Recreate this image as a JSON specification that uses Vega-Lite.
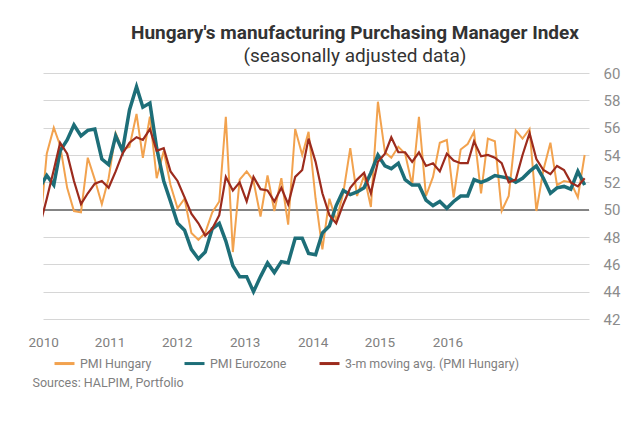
{
 "$schema": "https://vega.github.io/schema/vega-lite/v6.json",
 "width": 546, "height": 246,
 "autosize": {"type": "none"},
 "padding": {"left": 43, "top": 73, "right": 52, "bottom": 107},
 "title": {"text": "Hungary's manufacturing Purchasing Manager Index", "subtitle": "(seasonally adjusted data)", "anchor": "middle", "frame": "group", "dx": 39, "offset": 0.5, "font": "Roboto", "fontSize": 19, "fontWeight": "bold", "color": "#333333", "subtitleFont": "Roboto", "subtitleFontSize": 19, "subtitleColor": "#333333", "subtitlePadding": 4},
 "data": {"values": [
  {"month":"2009-12-01","hu":48.5,"ez":51.6,"ma":48.8},
  {"month":"2010-01-01","hu":54.1,"ez":52.5,"ma":50.8},
  {"month":"2010-02-01","hu":56.0,"ez":51.8,"ma":52.9},
  {"month":"2010-03-01","hu":54.7,"ez":54.3,"ma":54.9},
  {"month":"2010-04-01","hu":51.6,"ez":55.1,"ma":54.1},
  {"month":"2010-05-01","hu":49.9,"ez":56.2,"ma":52.1},
  {"month":"2010-06-01","hu":49.8,"ez":55.4,"ma":50.4},
  {"month":"2010-07-01","hu":53.8,"ez":55.8,"ma":51.2},
  {"month":"2010-08-01","hu":52.2,"ez":55.9,"ma":51.9},
  {"month":"2010-09-01","hu":50.4,"ez":53.7,"ma":52.1},
  {"month":"2010-10-01","hu":52.3,"ez":53.3,"ma":51.6},
  {"month":"2010-11-01","hu":55.6,"ez":55.4,"ma":52.8},
  {"month":"2010-12-01","hu":54.4,"ez":54.3,"ma":54.1},
  {"month":"2011-01-01","hu":54.6,"ez":57.3,"ma":54.9},
  {"month":"2011-02-01","hu":57.0,"ez":59.0,"ma":55.3},
  {"month":"2011-03-01","hu":53.8,"ez":57.5,"ma":55.1},
  {"month":"2011-04-01","hu":56.8,"ez":57.8,"ma":55.9},
  {"month":"2011-05-01","hu":52.3,"ez":54.5,"ma":54.3},
  {"month":"2011-06-01","hu":54.3,"ez":52.1,"ma":54.5},
  {"month":"2011-07-01","hu":51.8,"ez":50.6,"ma":52.8},
  {"month":"2011-08-01","hu":50.1,"ez":49.0,"ma":52.1},
  {"month":"2011-09-01","hu":50.8,"ez":48.5,"ma":50.9},
  {"month":"2011-10-01","hu":48.3,"ez":47.1,"ma":49.7},
  {"month":"2011-11-01","hu":47.8,"ez":46.4,"ma":49.0},
  {"month":"2011-12-01","hu":48.3,"ez":46.9,"ma":48.1},
  {"month":"2012-01-01","hu":49.8,"ez":48.6,"ma":48.6},
  {"month":"2012-02-01","hu":50.6,"ez":49.0,"ma":49.6},
  {"month":"2012-03-01","hu":56.8,"ez":47.7,"ma":52.4},
  {"month":"2012-04-01","hu":46.9,"ez":45.9,"ma":51.4},
  {"month":"2012-05-01","hu":52.2,"ez":45.1,"ma":52.0},
  {"month":"2012-06-01","hu":52.8,"ez":45.1,"ma":50.6},
  {"month":"2012-07-01","hu":52.1,"ez":44.0,"ma":52.4},
  {"month":"2012-08-01","hu":49.5,"ez":45.1,"ma":51.5},
  {"month":"2012-09-01","hu":52.5,"ez":46.1,"ma":51.4},
  {"month":"2012-10-01","hu":49.9,"ez":45.4,"ma":50.6},
  {"month":"2012-11-01","hu":52.3,"ez":46.2,"ma":51.6},
  {"month":"2012-12-01","hu":48.9,"ez":46.1,"ma":50.4},
  {"month":"2013-01-01","hu":55.9,"ez":47.9,"ma":52.4},
  {"month":"2013-02-01","hu":54.0,"ez":47.9,"ma":52.9},
  {"month":"2013-03-01","hu":55.7,"ez":46.8,"ma":55.2},
  {"month":"2013-04-01","hu":50.8,"ez":46.7,"ma":53.5},
  {"month":"2013-05-01","hu":47.1,"ez":48.3,"ma":51.2},
  {"month":"2013-06-01","hu":50.8,"ez":48.8,"ma":49.6},
  {"month":"2013-07-01","hu":49.2,"ez":50.3,"ma":49.0},
  {"month":"2013-08-01","hu":51.2,"ez":51.4,"ma":50.4},
  {"month":"2013-09-01","hu":54.5,"ez":51.1,"ma":51.6},
  {"month":"2013-10-01","hu":51.0,"ez":51.3,"ma":52.2},
  {"month":"2013-11-01","hu":52.5,"ez":51.6,"ma":52.7},
  {"month":"2013-12-01","hu":50.2,"ez":52.7,"ma":51.2},
  {"month":"2014-01-01","hu":57.9,"ez":54.0,"ma":53.5},
  {"month":"2014-02-01","hu":54.2,"ez":53.2,"ma":54.1},
  {"month":"2014-03-01","hu":53.8,"ez":53.0,"ma":55.3},
  {"month":"2014-04-01","hu":54.6,"ez":53.4,"ma":54.2},
  {"month":"2014-05-01","hu":54.1,"ez":52.2,"ma":54.2},
  {"month":"2014-06-01","hu":51.8,"ez":51.8,"ma":53.5},
  {"month":"2014-07-01","hu":56.8,"ez":51.8,"ma":54.2},
  {"month":"2014-08-01","hu":51.0,"ez":50.7,"ma":53.2},
  {"month":"2014-09-01","hu":52.4,"ez":50.3,"ma":53.4},
  {"month":"2014-10-01","hu":54.9,"ez":50.6,"ma":52.8},
  {"month":"2014-11-01","hu":55.1,"ez":50.1,"ma":54.1},
  {"month":"2014-12-01","hu":50.9,"ez":50.6,"ma":53.6},
  {"month":"2015-01-01","hu":54.4,"ez":51.0,"ma":53.4},
  {"month":"2015-02-01","hu":54.8,"ez":51.0,"ma":53.4},
  {"month":"2015-03-01","hu":55.7,"ez":52.2,"ma":55.0},
  {"month":"2015-04-01","hu":51.2,"ez":52.0,"ma":53.9},
  {"month":"2015-05-01","hu":55.2,"ez":52.2,"ma":54.0},
  {"month":"2015-06-01","hu":55.0,"ez":52.5,"ma":53.8},
  {"month":"2015-07-01","hu":49.9,"ez":52.4,"ma":53.4},
  {"month":"2015-08-01","hu":51.0,"ez":52.3,"ma":52.0},
  {"month":"2015-09-01","hu":55.8,"ez":52.0,"ma":52.2},
  {"month":"2015-10-01","hu":55.2,"ez":52.3,"ma":54.0},
  {"month":"2015-11-01","hu":55.9,"ez":52.8,"ma":55.6},
  {"month":"2015-12-01","hu":49.9,"ez":53.2,"ma":53.7},
  {"month":"2016-01-01","hu":52.9,"ez":52.3,"ma":52.9},
  {"month":"2016-02-01","hu":54.9,"ez":51.2,"ma":52.6},
  {"month":"2016-03-01","hu":51.8,"ez":51.6,"ma":53.2},
  {"month":"2016-04-01","hu":52.1,"ez":51.7,"ma":52.9},
  {"month":"2016-05-01","hu":52.0,"ez":51.5,"ma":52.0},
  {"month":"2016-06-01","hu":50.9,"ez":52.8,"ma":51.7},
  {"month":"2016-07-01","hu":54.0,"ez":51.8,"ma":52.3}
 ]},
 "layer": [
  {"mark": {"type": "rule", "color": "#858585", "strokeWidth": 1.2},
   "encoding": {"y": {"datum": 50, "type": "quantitative", "scale": {"domain": [42, 60]}, "axis": {"orient": "right", "title": null, "values": [42,44,46,48,50,52,54,56,58,60]}}}},
  {"encoding": {
    "x": {"field": "month", "type": "temporal",
     "scale": {"domain": [{"year": 2009, "month": 12, "date": 15, "hours": 10}, {"year": 2016, "month": 7, "date": 20, "hours": 5}]},
     "axis": {"title": "Sources: HALPIM, Portfolio",
      "values": [{"year": 2009, "month": 12, "date": 16}, {"year": 2010, "month": 10, "date": 5}, {"year": 2011, "month": 7, "date": 28}, {"year": 2012, "month": 5, "date": 23}, {"year": 2013, "month": 3, "date": 19}, {"year": 2014, "month": 1, "date": 8}, {"year": 2014, "month": 11, "date": 4}],
      "labelExpr": "'' + (2010 + round(datum.index * 6))",
      "domain": false, "ticks": false, "grid": false, "labelFlush": false, "labelOverlap": false, "labelDx": -5, "labelPadding": 16,
      "labelFontSize": 13.5, "labelColor": "#808080", "labelFont": "Roboto",
      "titleFont": "Roboto", "titleFontSize": 12.5, "titleFontWeight": "normal", "titleColor": "#7f7f7f",
      "titleAnchor": "start", "titleAlign": "left", "titleX": -11, "titleY": 67, "titleBaseline": "alphabetic"}}},
   "layer": [
    {"mark": {"type": "line", "strokeWidth": 2, "clip": true},
     "encoding": {"y": {"field": "hu", "type": "quantitative", "scale": {"domain": [42, 60]}, "axis": {"orient": "right", "title": null, "values": [42,44,46,48,50,52,54,56,58,60]}},
      "color": {"datum": "PMI Hungary", "scale": {"domain": ["PMI Hungary", "PMI Eurozone", "3-m moving avg. (PMI Hungary)"], "range": ["#F2A24E", "#1D6E78", "#9C2B1D"]},
       "legend": {"orient": "none", "legendX": 10, "legendY": 279, "direction": "horizontal", "columns": 3, "title": null}}}},
    {"mark": {"type": "line", "strokeWidth": 3.5, "clip": true},
     "encoding": {"y": {"field": "ez", "type": "quantitative", "scale": {"domain": [42, 60]}, "axis": {"orient": "right", "title": null, "values": [42,44,46,48,50,52,54,56,58,60]}},
      "color": {"datum": "PMI Eurozone", "scale": {"domain": ["PMI Hungary", "PMI Eurozone", "3-m moving avg. (PMI Hungary)"], "range": ["#F2A24E", "#1D6E78", "#9C2B1D"]},
       "legend": {"orient": "none", "legendX": 10, "legendY": 279, "direction": "horizontal", "columns": 3, "title": null}}}},
    {"mark": {"type": "line", "strokeWidth": 2.2, "clip": true},
     "encoding": {"y": {"field": "ma", "type": "quantitative", "scale": {"domain": [42, 60]}, "axis": {"orient": "right", "title": null, "values": [42,44,46,48,50,52,54,56,58,60]}},
      "color": {"datum": "3-m moving avg. (PMI Hungary)", "scale": {"domain": ["PMI Hungary", "PMI Eurozone", "3-m moving avg. (PMI Hungary)"], "range": ["#F2A24E", "#1D6E78", "#9C2B1D"]},
       "legend": {"orient": "none", "legendX": 10, "legendY": 279, "direction": "horizontal", "columns": 3, "title": null}}}}
   ]}
 ],
 "config": {
  "view": {"stroke": null},
  "background": "white",
  "axisY": {"domain": false, "ticks": false, "grid": true, "gridColor": "#d6d6d6", "gridWidth": 1, "labelPadding": 14, "labelFontSize": 15, "labelColor": "#8c8c8c", "labelFont": "Roboto"},
  "legend": {"symbolType": "stroke", "symbolSize": 400, "symbolStrokeWidth": 3, "labelFontSize": 12.4, "labelColor": "#808080", "labelFont": "Roboto", "labelOffset": 4, "columnPadding": 26, "labelLimit": 400}
 }
}
